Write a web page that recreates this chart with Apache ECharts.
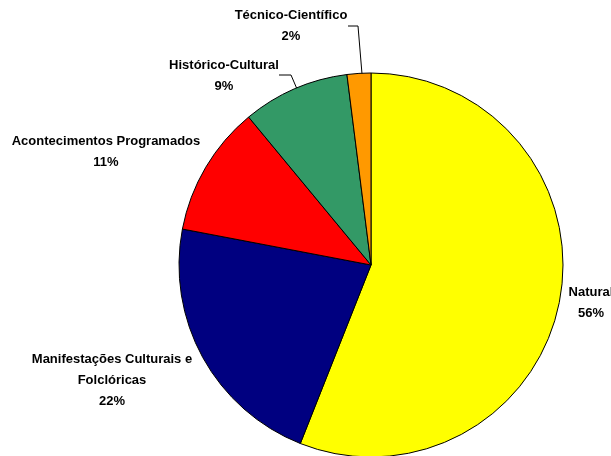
<!DOCTYPE html>
<html>
<head>
<meta charset="utf-8">
<script src="https://cdn.jsdelivr.net/npm/echarts@6/dist/echarts.min.js"></script>
<style>
  html, body { margin: 0; padding: 0; background: #fff; }
  #chart { width: 611px; height: 456px; }
</style>
</head>
<body>
<div id="chart"></div>
<script>
// categorias e valores (%)
var categories = [
  "Natural",
  "Manifestações Culturais e\nFolclóricas",
  "Acontecimentos Programados",
  "Histórico-Cultural",
  "Técnico-Científico"
];
var values = [56, 22, 11, 9, 2];
var colors = ["#FFFF00", "#000080", "#FF0000", "#339966", "#FF9900"];

// posição dos rótulos (centro do bloco de texto)
var labelPos = [
  [591, 303],
  [112, 380],
  [106, 152],
  [224, 76],
  [291, 26]
];
var leaderLines = {
  3: [[279, 75], [291, 75], [297, 89]],
  4: [[348, 26], [358, 26], [362, 74]]
};

var myChart = echarts.init(document.getElementById("chart"));

var option = {
  animation: false,
  series: [
    {
      type: "pie",
      center: [371, 265],
      radius: 192,
      startAngle: 90,
      clockwise: true,
      data: categories.map(function (name, i) {
        return {
          name: name,
          value: values[i],
          itemStyle: { color: colors[i] },
          labelLine: { show: !!leaderLines[i] }
        };
      }),
      itemStyle: {
        borderColor: "#000",
        borderWidth: 1
      },
      label: {
        show: true,
        position: "outside",
        formatter: "{b}\n{c}%",
        color: "#000",
        fontFamily: "Liberation Sans",
        fontWeight: "bold",
        fontSize: 13,
        lineHeight: 21,
        align: "center",
        overflow: "none",
        edgeDistance: 0
      },
      labelLine: {
        lineStyle: { color: "#000", width: 1 }
      },
      labelLayout: function (params) {
        var p = labelPos[params.dataIndex];
        var res = {
          x: p[0],
          y: p[1],
          align: "center",
          verticalAlign: "middle",
          hideOverlap: false
        };
        if (leaderLines[params.dataIndex]) {
          res.labelLinePoints = leaderLines[params.dataIndex];
        }
        return res;
      }
    }
  ]
};

myChart.setOption(option);
</script>
</body>
</html>
